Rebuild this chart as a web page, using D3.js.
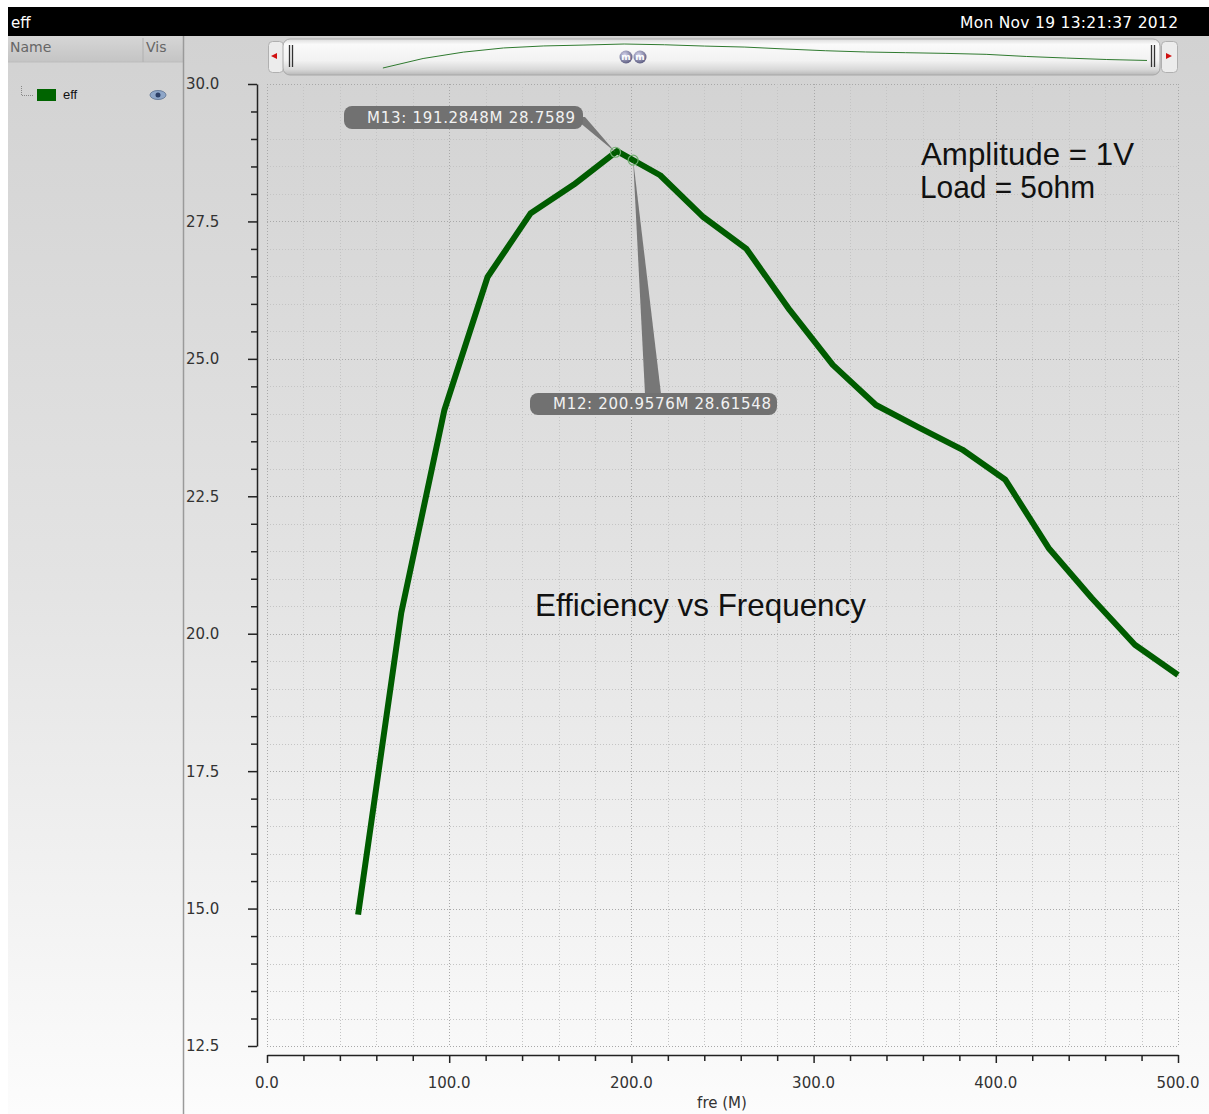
<!DOCTYPE html>
<html>
<head>
<meta charset="utf-8">
<script src="https://cdn.jsdelivr.net/npm/d3@7"></script>
<style>
  html, body { margin: 0; padding: 0; background: #ffffff; }
  svg { display: block; }
</style>
</head>
<body>
<script>
// Efficiency (%) of the amplifier sampled across frequency (MHz)
const freq = [50, 73.68, 97.37, 121.05, 144.74, 168.42, 192.11, 215.79, 239.47, 263.16,
              286.84, 310.53, 334.21, 357.89, 381.58, 405.26, 428.95, 452.63, 476.32, 500];
const eff  = [14.89, 20.38, 24.07, 26.49, 27.65, 28.17, 28.78, 28.34, 27.58, 27.0,
              25.89, 24.89, 24.16, 23.75, 23.35, 22.8, 21.56, 20.65, 19.8, 19.25];

// Markers placed on the trace
const markerNames = ["M13", "M12"];
const markerFreq  = [191.2848, 200.9576];
const markerEff   = [28.7589, 28.61548];
const markerText  = ["M13: 191.2848M 28.7589", "M12: 200.9576M 28.61548"];

// Axis ticks
const xMajorTicks = [0, 100, 200, 300, 400, 500];
const yMajorTicks = [12.5, 15.0, 17.5, 20.0, 22.5, 25.0, 27.5, 30.0];

const W = 1209, H = 1114;
const plot = { left: 267, right: 1178, top: 84, bottom: 1046 };

const svg = d3.select("body").append("svg").attr("width", W).attr("height", H);
const defs = svg.append("defs");

const bg = defs.append("linearGradient").attr("id", "bg").attr("x1", 0).attr("y1", 0).attr("x2", 0).attr("y2", 1);
bg.append("stop").attr("offset", 0).attr("stop-color", "#d2d2d2");
bg.append("stop").attr("offset", 0.5).attr("stop-color", "#e3e3e3");
bg.append("stop").attr("offset", 1).attr("stop-color", "#fcfcfc");

const hdr = defs.append("linearGradient").attr("id", "hdr").attr("x1", 0).attr("y1", 0).attr("x2", 0).attr("y2", 1);
hdr.append("stop").attr("offset", 0).attr("stop-color", "#d6d6d6");
hdr.append("stop").attr("offset", 1).attr("stop-color", "#c4c4c4");

const bar = defs.append("linearGradient").attr("id", "bar").attr("x1", 0).attr("y1", 0).attr("x2", 0).attr("y2", 1);
bar.append("stop").attr("offset", 0).attr("stop-color", "#dcdcdc");
bar.append("stop").attr("offset", 0.15).attr("stop-color", "#fafafa");
bar.append("stop").attr("offset", 0.6).attr("stop-color", "#f2f2f2");
bar.append("stop").attr("offset", 0.85).attr("stop-color", "#d8d8d8");
bar.append("stop").attr("offset", 1).attr("stop-color", "#b8b8b8");

const knob = defs.append("radialGradient").attr("id", "knob").attr("cx", 0.4).attr("cy", 0.35).attr("r", 0.7);
knob.append("stop").attr("offset", 0).attr("stop-color", "#d8d8f0");
knob.append("stop").attr("offset", 1).attr("stop-color", "#55557a");

// Backgrounds
svg.append("rect").attr("x", 8).attr("y", 36).attr("width", W - 8).attr("height", H - 36).attr("fill", "url(#bg)");

// Title bar
svg.append("rect").attr("x", 8).attr("y", 7).attr("width", W - 8).attr("height", 29).attr("fill", "#000");
svg.append("text").attr("x", 11).attr("y", 28).attr("fill", "#fff")
  .attr("font-family", "DejaVu Sans").attr("font-size", 15).text("eff");
svg.append("text").attr("x", 960).attr("y", 28).attr("fill", "#fff")
  .attr("font-family", "DejaVu Sans").attr("font-size", 15.5)
  .attr("textLength", 218).attr("lengthAdjust", "spacing").text("Mon Nov 19 13:21:37 2012");

// Left trace list panel
svg.append("rect").attr("x", 8).attr("y", 36).attr("width", 175).attr("height", 26).attr("fill", "url(#hdr)");
svg.append("line").attr("x1", 8).attr("x2", 183).attr("y1", 62).attr("y2", 62).attr("stroke", "#bdbdbd");
svg.append("line").attr("x1", 143).attr("x2", 143).attr("y1", 38).attr("y2", 62).attr("stroke", "#b0b0b0");
svg.append("line").attr("x1", 183.5).attr("x2", 183.5).attr("y1", 36).attr("y2", H).attr("stroke", "#9a9a9a").attr("stroke-width", 1.5);
svg.append("text").attr("x", 10).attr("y", 52).attr("fill", "#666").attr("font-family", "DejaVu Sans").attr("font-size", 14).text("Name");
svg.append("text").attr("x", 146).attr("y", 52).attr("fill", "#666").attr("font-family", "DejaVu Sans").attr("font-size", 14).text("Vis");
svg.append("path").attr("d", "M21.5,86 V95.5 H33").attr("fill", "none").attr("stroke", "#888").attr("stroke-dasharray", "1,1");
svg.append("rect").attr("x", 37).attr("y", 89).attr("width", 19).attr("height", 12).attr("fill", "#006400");
svg.append("text").attr("x", 63).attr("y", 99).attr("fill", "#111").attr("font-family", "Liberation Sans").attr("font-size", 13).text("eff");
svg.append("ellipse").attr("cx", 158).attr("cy", 95).attr("rx", 8).attr("ry", 4.5).attr("fill", "#8ea6c8").attr("stroke", "#6c7f9c");
svg.append("circle").attr("cx", 158).attr("cy", 95).attr("r", 2.5).attr("fill", "#2c3f66");

// Scales
const x = d3.scaleLinear().domain([0, 500]).range([plot.left, plot.right]);
const y = d3.scaleLinear().domain([12.5, 30]).range([plot.bottom, plot.top]);

// Grid
const grid = svg.append("g");
grid.selectAll("line.h").data(d3.range(125, 301, 5).map(v => v / 10)).join("line")
  .attr("x1", plot.left).attr("x2", plot.right)
  .attr("y1", d => Math.round(y(d)) + 0.5).attr("y2", d => Math.round(y(d)) + 0.5)
  .attr("stroke", d => (Math.abs(d * 10 % 25) < 1e-6 ? "#a8a8a8" : "#c4c4c4"))
  .attr("stroke-dasharray", "1,2");
grid.selectAll("line.v").data(d3.range(0, 501, 20)).join("line")
  .attr("y1", plot.top).attr("y2", plot.bottom)
  .attr("x1", d => Math.round(x(d)) + 0.5).attr("x2", d => Math.round(x(d)) + 0.5)
  .attr("stroke", d => (d % 100 === 0 ? "#a8a8a8" : "#c4c4c4"))
  .attr("stroke-dasharray", "1,2");

// Y axis
const yAxisX = 257;
const yMinor = d3.range(125, 301, 5).map(v => v / 10).filter(v => !yMajorTicks.includes(v));
const yAxis = svg.append("g").attr("transform", `translate(${yAxisX},0)`);
yAxis.call(d3.axisLeft(y).tickValues(yMajorTicks).tickSize(9).tickSizeOuter(0).tickFormat(""));
yAxis.append("g").call(d3.axisLeft(y).tickValues(yMinor).tickSize(6).tickSizeOuter(0).tickFormat(""))
  .select(".domain").remove();
yAxis.selectAll("line").attr("stroke", "#222").attr("stroke-width", 1.5);
yAxis.select(".domain").attr("stroke", "#222").attr("stroke-width", 1.5);
svg.append("g").selectAll("text").data(yMajorTicks).join("text")
  .attr("x", 186).attr("y", d => y(d)).attr("dy", "0.36em")
  .attr("fill", "#333").attr("font-family", "DejaVu Sans").attr("font-size", 15)
  .text(d => d3.format(".1f")(d));

// X axis
const xAxisY = 1055;
const xMinor = d3.range(0, 501, 20).filter(v => v % 100 !== 0);
const xAxis = svg.append("g").attr("transform", `translate(0,${xAxisY})`);
xAxis.call(d3.axisBottom(x).tickValues(xMajorTicks).tickSize(8).tickSizeOuter(0).tickFormat(""));
xAxis.append("g").call(d3.axisBottom(x).tickValues(xMinor).tickSize(6).tickSizeOuter(0).tickFormat(""))
  .select(".domain").remove();
xAxis.selectAll("line").attr("stroke", "#222").attr("stroke-width", 1.5);
xAxis.select(".domain").attr("stroke", "#222").attr("stroke-width", 1.5);
svg.append("g").selectAll("text").data(xMajorTicks).join("text")
  .attr("x", d => x(d)).attr("y", 1088).attr("text-anchor", "middle")
  .attr("fill", "#333").attr("font-family", "DejaVu Sans").attr("font-size", 15)
  .text(d => d3.format(".1f")(d));
svg.append("text").attr("x", 722).attr("y", 1108).attr("text-anchor", "middle")
  .attr("fill", "#333").attr("font-family", "DejaVu Sans").attr("font-size", 15).text("fre (M)");

// Trace
const pts = freq.map((f, i) => [f, eff[i]]);
svg.append("path").datum(pts)
  .attr("fill", "none").attr("stroke", "#005c00").attr("stroke-width", 6)
  .attr("stroke-linejoin", "round")
  .attr("d", d3.line().x(d => x(d[0])).y(d => y(d[1])));

// Annotations
svg.append("text").attr("x", 921).attr("y", 165).attr("fill", "#111")
  .attr("font-family", "Liberation Sans").attr("font-size", 30.5)
  .attr("textLength", 213).attr("lengthAdjust", "spacingAndGlyphs").text("Amplitude = 1V");
svg.append("text").attr("x", 920).attr("y", 198).attr("fill", "#111")
  .attr("font-family", "Liberation Sans").attr("font-size", 30.5)
  .attr("textLength", 175).attr("lengthAdjust", "spacingAndGlyphs").text("Load = 5ohm");
svg.append("text").attr("x", 535).attr("y", 616).attr("fill", "#111")
  .attr("font-family", "Liberation Sans").attr("font-size", 30.5)
  .attr("textLength", 331).attr("lengthAdjust", "spacingAndGlyphs").text("Efficiency vs Frequency");

// Marker labels with pointers
const labelBoxes = [
  { x: 344, y: 106, w: 239, h: 23, tx: 367, tw: 208, base: [[573, 117], [585, 117]] },
  { x: 530, y: 393, w: 247, h: 22, tx: 553, tw: 218, base: [[645, 394], [661, 394]] }
];
markerNames.forEach((name, i) => {
  const mx = x(markerFreq[i]), my = y(markerEff[i]);
  const b = labelBoxes[i];
  svg.append("path")
    .attr("d", `M${mx},${my} L${b.base[0][0]},${b.base[0][1]} L${b.base[1][0]},${b.base[1][1]} Z`)
    .attr("fill", "#777");
  svg.append("rect").attr("x", b.x).attr("y", b.y).attr("width", b.w).attr("height", b.h)
    .attr("rx", 8).attr("fill", "#717171");
  svg.append("text").attr("x", b.tx).attr("y", b.y + b.h / 2).attr("dy", "0.36em")
    .attr("fill", "#f2f2f2").attr("font-family", "DejaVu Sans").attr("font-size", 15)
    .attr("textLength", b.tw).attr("lengthAdjust", "spacing")
    .text(markerText[i]);
  svg.append("circle").attr("cx", mx).attr("cy", my).attr("r", 5)
    .attr("fill", "none").attr("stroke", "#6fae6f").attr("stroke-width", 1.2);
});

// Overview scroller
const sc = svg.append("g");
sc.append("rect").attr("x", 268.5).attr("y", 41.5).attr("width", 15).attr("height", 31).attr("rx", 4)
  .attr("fill", "#ececec").attr("stroke", "#b0b0b0");
sc.append("path").attr("d", "M271,56 L277,53 L277,59 Z").attr("fill", "#d01010");
sc.append("rect").attr("x", 1161.5).attr("y", 41.5).attr("width", 16).attr("height", 31).attr("rx", 4)
  .attr("fill", "#ececec").attr("stroke", "#b0b0b0");
sc.append("path").attr("d", "M1172,56 L1166,53 L1166,59 Z").attr("fill", "#d01010");
sc.append("rect").attr("x", 283).attr("y", 39).attr("width", 877).attr("height", 36).attr("rx", 7)
  .attr("fill", "url(#bar)").attr("stroke", "#a8a8a8");
[289.5, 292.5, 1151.5, 1154.5].forEach(gx =>
  sc.append("line").attr("x1", gx).attr("x2", gx).attr("y1", 45).attr("y2", 67)
    .attr("stroke", "#333").attr("stroke-width", 1.3));
const ox = d3.scaleLinear().domain([0, 500]).range([298, 1147]);
const oy = d3.scaleLinear().domain([14.89, 28.78]).range([68, 44]);
sc.append("path").datum(pts)
  .attr("fill", "none").attr("stroke", "#2f7a2f").attr("stroke-width", 1)
  .attr("d", d3.line().x(d => ox(d[0])).y(d => oy(d[1])));
[626, 640].forEach(cx => {
  sc.append("circle").attr("cx", cx).attr("cy", 57).attr("r", 6.5).attr("fill", "url(#knob)");
  sc.append("text").attr("x", cx).attr("y", 57).attr("dy", "0.35em").attr("text-anchor", "middle")
    .attr("fill", "#fff").attr("font-family", "DejaVu Sans").attr("font-size", 9).attr("font-weight", "bold").text("m");
});
</script>
</body>
</html>
